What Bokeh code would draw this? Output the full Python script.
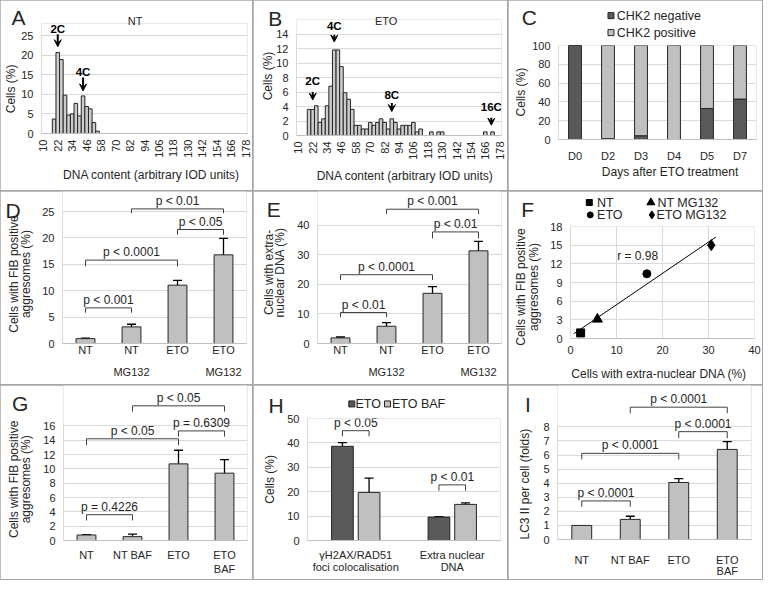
import numpy as np
from bokeh.plotting import figure
from bokeh.models import (Range1d, FixedTicker, Label, Arrow, VeeHead, Whisker,
                          TeeHead, ColumnDataSource, GridBox)
from bokeh.embed import file_html
from bokeh.resources import INLINE

# ---------------- data ----------------
hist_ticks = [10, 22, 34, 46, 58, 70, 82, 94, 106, 118, 130, 142, 154, 166, 178]

A_bins = [19, 22, 25, 28, 31, 34, 37, 40, 43, 46, 49, 52, 55]
A_cells = [3.7, 20.7, 18.9, 9.8, 4.7, 5.0, 7.7, 4.5, 9.6, 6.9, 6.3, 2.8, 0.6]
A_ticks = [0, 5, 10, 15, 20, 25]
A_marks = [("2C", 22, 26.6, 25.4, 22.2), ("4C", 43, 15.6, 14.3, 10.9)]

B_bins = [19, 22, 25, 28, 31, 34, 37, 40, 43, 46, 49, 52, 55, 58, 61, 64, 67, 70, 73,
          76, 79, 82, 85, 88, 91, 94, 97, 100, 103, 106, 109, 112, 121, 127, 130, 166, 172]
B_cells = [3.6, 3.6, 4.1, 1.8, 2.3, 4.1, 6.8, 11.8, 11.8, 9.5, 5.9, 5.0, 3.6, 1.4, 1.4,
           0.9, 0.9, 1.8, 1.4, 1.8, 2.3, 1.8, 0.9, 2.3, 1.8, 0.9, 1.4, 1.4, 1.4, 1.8, 0.5,
           0.9, 0.5, 0.5, 0.5, 0.5, 0.5]
B_ticks = [0, 2, 4, 6, 8, 10, 12, 14]
B_marks = [("2C", 22, 7.56, 6.0, 4.9), ("4C", 40, 15.1, 13.9, 12.9),
           ("8C", 88, 5.57, 4.5, 3.3), ("16C", 171, 4.0, 2.44, 1.43)]

C_days = ["D0", "D2", "D3", "D4", "D5", "D7"]
C_negative = [100, 0.8, 4, 0, 33, 43]
C_positive = [0, 99.2, 96, 100, 67, 57]
C_ticks = [0, 20, 40, 60, 80, 100]

D_groups = ["NT", "NT\n\nMG132", "ETO", "ETO\n\nMG132"]
D_fib = [0.92, 3.15, 11.05, 16.8]
D_err = [0.1, 0.5, 0.9, 3.1]
D_ticks = [0, 5, 10, 15, 20, 25]
D_pvals = [(0, 1, 6.75, 5.83, "p < 0.001"), (0, 2, 15.8, 14.6, "p < 0.0001"),
           (2, 3, 21.6, 20.6, "p < 0.05"), (1, 3, 25.5, 24.7, "p < 0.01")]

E_groups = ["NT", "NT\n\nMG132", "ETO", "ETO\n\nMG132"]
E_dna = [1.9, 5.85, 17.0, 31.4]
E_err = [0.3, 1.2, 2.3, 3.2]
E_ticks = [0, 10, 20, 30, 40]
E_pvals = [(0, 1, 10.5, 8.9, "p < 0.01"), (0, 2, 23.3, 21.5, "p < 0.0001"),
           (2, 3, 37.8, 35.6, "p < 0.01"), (1, 3, 45.5, 43.9, "p < 0.001")]

F_names = ["NT", "NT MG132", "ETO", "ETO MG132"]
F_dna = [2.2, 5.85, 16.6, 30.6]
F_fib = [0.9, 3.1, 10.4, 15.0]
F_markers = ["square", "triangle", "circle", "diamond"]
F_xticks = [0, 10, 20, 30, 40]
F_yticks = [0, 3, 6, 9, 12, 15, 18]
F_r_text = "r = 0.98"

G_groups = ["NT", "NT BAF", "ETO", "ETO\nBAF"]
G_fib = [0.77, 0.54, 10.7, 9.4]
G_err = [0.05, 0.36, 1.9, 1.9]
G_ticks = [0, 2, 4, 6, 8, 10, 12, 14, 16]
G_pvals = [(0, 1, 3.6, 2.8, "p = 0.4226"), (0, 2, 14.2, 13.3, "p < 0.05"),
           (2, 3, 15.3, 14.5, "p = 0.6309"), (1, 3, 18.8, 18.0, "p < 0.05")]

H_groups = ["\u03b3H2AX/RAD51\nfoci colocalisation", "Extra nuclear\nDNA"]
H_series = ["ETO", "ETO BAF"]
H_eto = [38.6, 9.6]
H_eto_err = [1.5, 0.15]
H_baf = [19.7, 14.8]
H_baf_err = [5.9, 0.6]
H_ticks = [0, 10, 20, 30, 40, 50]
H_pvals = [(0, 45.0, 42.7, "p < 0.05"), (1, 22.8, 20.4, "p < 0.01")]

I_groups = ["NT", "NT BAF", "ETO", "ETO\nBAF"]
I_lc3 = [1.0, 1.43, 4.05, 6.4]
I_err = [0.0, 0.22, 0.28, 0.55]
I_ticks = [0, 1, 2, 3, 4, 5, 6, 7, 8]
I_pvals = [(0, 1, 2.74, 2.33, "p < 0.0001"), (0, 2, 6.12, 5.69, "p < 0.0001"),
           (2, 3, 7.66, 7.2, "p < 0.0001"), (1, 3, 9.4, 8.97, "p < 0.0001")]

# ---------------- style ----------------
FONT = "Liberation Sans"
TXT = "#262626"
GRID = "#d9d9d9"
LIGHT = "#c0c0c0"
HIST = "#cccccc"
DARK = "#595959"
EDGE = "#262626"

WIDTHS = [252, 254, 254]
HEIGHTS = [190, 193, 194]
REFW = [256, 261, 261]
REFH = [197, 198, 200]
COLX = [0, 253, 508]
ROWY = [0, 191, 385]
TOTW, TOTH = 762, 579


class Panel:
    def __init__(self, ci, ri, frame, xr, yr):
        W, H = WIDTHS[ci], HEIGHTS[ri]
        refW, refH = REFW[ci], REFH[ri]
        fl, fr, ft, fb = frame
        kx, ky = W / refW, H / refH
        p = figure(width=W, height=H, x_range=Range1d(*xr), y_range=Range1d(*yr),
                   output_backend="svg", toolbar_location=None, frame_align=False,
                   min_border_left=round(fl * kx), min_border_right=round((refW - fr) * kx),
                   min_border_top=round(ft * ky), min_border_bottom=round((refH - fb) * ky))
        p.outline_line_color = None
        p.border_fill_color = "white"
        p.background_fill_color = "white"
        p.xgrid.grid_line_color = None
        p.ygrid.grid_line_color = GRID
        for ax in (p.xaxis[0], p.yaxis[0]):
            ax.major_tick_line_color = None
            ax.minor_tick_line_color = None
            ax.major_tick_out = 0
            ax.major_label_text_font = FONT
            ax.major_label_text_font_size = "11px"
            ax.major_label_text_color = TXT
        p.xaxis.axis_line_color = "#bfbfbf"
        p.yaxis.axis_line_color = GRID
        p.yaxis.major_label_standoff = 8
        self.p = p

    def yticks(self, ticks):
        t = FixedTicker(ticks=ticks)
        self.p.yaxis.ticker = t
        self.p.ygrid.ticker = t
        self.p.yaxis.bounds = (ticks[0], ticks[-1])

    def xticks(self, ticks, labels=None, standoff=4, line_height=1.2):
        t = FixedTicker(ticks=ticks)
        self.p.xaxis.ticker = t
        self.p.xgrid.ticker = t
        if labels is not None:
            self.p.xaxis.major_label_overrides = {tk: lb for tk, lb in zip(ticks, labels)}
        self.p.xaxis.major_label_standoff = standoff
        self.p.xaxis.major_label_text_line_height = line_height


def errbars(pn, xs, vals, errs):
    keep = [i for i, e in enumerate(errs) if e > 0]
    src = ColumnDataSource(dict(x=[xs[i] for i in keep],
                                lo=[vals[i] - errs[i] for i in keep],
                                hi=[vals[i] + errs[i] for i in keep]))
    pn.p.add_layout(Whisker(source=src, base="x", lower="lo", upper="hi",
                            line_color="black", line_width=1.3,
                            upper_head=TeeHead(size=9, line_color="black", line_width=1.3),
                            lower_head=TeeHead(size=9, line_color="black", line_width=1.3)))


def bracket(pn, x1, x2, yt, yb, label):
    pn.p.line(x=[x1, x1, x2, x2], y=[yb, yt, yt, yb], line_color="#404040", line_width=1)
    pn.p.add_layout(Label(x=(x1 + x2) / 2, y=yt, text=label, text_align="center",
                          text_baseline="bottom", y_offset=1, text_font=FONT,
                          text_font_size="12px", text_color=TXT))


def mark(pn, label, x, ty, y0, y1):
    pn.p.add_layout(Arrow(x_start=x, y_start=y0, x_end=x, y_end=y1, line_width=2,
                          line_color="black",
                          end=VeeHead(size=7, fill_color="black", line_color="black",
                                      line_width=1)))
    pn.p.add_layout(Label(x=x, y=ty, text=label, text_align="center",
                          text_baseline="middle", text_font=FONT, text_font_size="11.5px",
                          text_font_style="bold", text_color="black"))


HALF_PI = np.pi / 2

# ---------------- overlay for free texts (titles, letters, legends) ----------------
ov = figure(width=TOTW, height=TOTH, x_range=Range1d(0, TOTW), y_range=Range1d(TOTH, 0),
            output_backend="svg", toolbar_location=None, min_border=0, frame_align=False,
            x_axis_type=None, y_axis_type=None)
ov.outline_line_color = None
ov.border_fill_color = None
ov.background_fill_color = None


def pos(ci, ri, x, y):
    return (COLX[ci] + x * WIDTHS[ci] / REFW[ci], ROWY[ri] + y * HEIGHTS[ri] / REFH[ri])


def otext(ci, ri, x, y, s, size, angle=0.0, align="center", color=TXT):
    X, Y = pos(ci, ri, x, y)
    ov.add_layout(Label(x=X, y=Y, text=s, angle=angle, text_font=FONT,
                        text_font_size=f"{size}px", text_align=align,
                        text_baseline="middle", text_color=color))


def omark(ci, ri, x, y, marker, size, fill, line):
    X, Y = pos(ci, ri, x, y)
    ov.scatter(x=[X], y=[Y], marker=marker, size=size, fill_color=fill, line_color=line,
               line_width=1)


# ---------------- A ----------------
pa = Panel(0, 0, (42, 251, 24, 138.3), (8.5, 179.5), (0, 28.12))
pa.p.vbar(x=A_bins, top=A_cells, width=3, fill_color=HIST, line_color=EDGE, line_width=1)
pa.yticks(A_ticks)
pa.xticks(hist_ticks, standoff=6)
pa.p.xaxis.major_label_orientation = HALF_PI
for m in A_marks:
    mark(pa, *m)
otext(0, 0, 18.3, 17.3, "A", 21)
otext(0, 0, 136.7, 21.3, "NT", 11)
otext(0, 0, 11, 91.7, "Cells (%)", 12, angle=HALF_PI)
otext(0, 0, 153.3, 181, "DNA content (arbitrary IOD units)", 12)

# ---------------- B ----------------
pb = Panel(1, 0, (44, 254.8, 20, 140), (8.5, 179.5), (0, 16.0))
pb.p.vbar(x=B_bins, top=B_cells, width=3, fill_color=HIST, line_color=EDGE, line_width=1)
pb.yticks(B_ticks)
pb.xticks(hist_ticks, standoff=6)
pb.p.xaxis.major_label_orientation = HALF_PI
for m in B_marks:
    mark(pb, *m)
otext(1, 0, 22.3, 18.3, "B", 21)
otext(1, 0, 136.3, 21.3, "ETO", 11)
otext(1, 0, 15, 78.3, "Cells (%)", 12, angle=HALF_PI)
otext(1, 0, 155.7, 181.7, "DNA content (arbitrary IOD units)", 12)

# ---------------- C ----------------
pc = Panel(2, 0, (51, 255, 46.7, 144), (-0.5, 5.5), (0, 100))
cx = list(range(len(C_days)))
pc.p.vbar(x=cx, bottom=0, top=C_negative, width=0.39, fill_color=DARK, line_color=EDGE,
          line_width=1)
pc.p.vbar(x=cx, bottom=C_negative, top=[n + q for n, q in zip(C_negative, C_positive)],
          width=0.39, fill_color=LIGHT, line_color=EDGE, line_width=1)
pc.yticks(C_ticks)
pc.xticks(cx, C_days, standoff=10)
otext(2, 0, 21.3, 17.3, "C", 21)
omark(2, 0, 105.3, 15.7, "square", 6, DARK, EDGE)
omark(2, 0, 105.3, 33.3, "square", 6, LIGHT, EDGE)
otext(2, 0, 111.3, 15.7, "CHK2 negative", 12.5, align="left")
otext(2, 0, 111.3, 33.3, "CHK2 positive", 12.5, align="left")
otext(2, 0, 13, 95, "Cells (%)", 12, angle=HALF_PI)
otext(2, 0, 166, 178, "Days after ETO treatment", 12)


# ---------------- bar panels ----------------
def bar_panel(ci, ri, frame, yend, groups, vals, errs, ticks, pvals, standoff, lh):
    pn = Panel(ci, ri, frame, (-0.5, len(groups) - 0.5), (0, yend))
    xs = list(range(len(groups)))
    pn.p.vbar(x=xs, top=vals, width=0.41, fill_color=LIGHT, line_color=EDGE, line_width=1)
    errbars(pn, xs, vals, errs)
    pn.yticks(ticks)
    pn.xticks(xs, groups, standoff=standoff, line_height=lh)
    for i, j, yt, yb, lab in pvals:
        bracket(pn, xs[i], xs[j], yt, yb, lab)
    return pn


pd_ = bar_panel(0, 1, (63, 250, 0, 156.3), 28.8, D_groups, D_fib, D_err, D_ticks,
                D_pvals, 0, 0.93)
otext(0, 1, 12.8, 20, "D", 21)
otext(0, 1, 13.3, 84.7, "Cells with FIB positive", 12, angle=HALF_PI)
otext(0, 1, 26, 84.7, "aggresomes (%)", 12, angle=HALF_PI)

pe = bar_panel(1, 1, (66, 255, 0, 155.7), 51.5, E_groups, E_dna, E_err, E_ticks,
               E_pvals, 0, 0.93)
otext(1, 1, 20.7, 18.7, "E", 21)
otext(1, 1, 15.7, 83, "Cells with extra-", 12, angle=HALF_PI)
otext(1, 1, 27.3, 83, "nuclear DNA (%)", 12, angle=HALF_PI)

# ---------------- F ----------------
pf = Panel(2, 1, (63.7, 253, 36.3, 151.3), (0, 40), (0, 18))
pf.p.xgrid.grid_line_color = GRID
pf.yticks(F_yticks)
pf.xticks(F_xticks, standoff=7)
slope, icpt = np.polyfit(F_dna, F_fib, 1)
tx = np.array([min(F_dna) - 1.5, max(F_dna) + 1.0])
pf.p.line(x=tx, y=slope * tx + icpt, line_color="black", line_width=1)
msize = {"square": 8, "triangle": 10, "circle": 8, "diamond": 11}
for xv, yv, mk in zip(F_dna, F_fib, F_markers):
    pf.p.scatter(x=[xv], y=[yv], marker=mk, size=msize[mk], fill_color="black",
                 line_color="black")
pf.p.add_layout(Label(x=14.6, y=13.3, text=F_r_text, text_align="center",
                      text_baseline="middle", text_font=FONT, text_font_size="12px",
                      text_color=TXT))
otext(2, 1, 19.7, 18.7, "F", 21)
leg_pos = [(83, 11.3, 91), (146.3, 11.3, 153), (84, 24, 91), (147.3, 24, 152)]
leg_size = {"square": 6, "triangle": 8, "circle": 6, "diamond": 8}
for (mx, my, tx_), mk, nm in zip(leg_pos, F_markers, F_names):
    omark(2, 1, mx, my, mk, leg_size[mk], "black", "black")
    otext(2, 1, tx_, my, nm, 12.5, align="left")
otext(2, 1, 13, 98, "Cells with FIB positive", 12, angle=HALF_PI)
otext(2, 1, 25.7, 98, "aggresomes (%)", 12, angle=HALF_PI)
otext(2, 1, 154.7, 187.3, "Cells with extra-nuclear DNA (%)", 12)

# ---------------- G ----------------
pg = bar_panel(0, 2, (64, 251, 0, 160), 21.64, G_groups, G_fib, G_err, G_ticks,
               G_pvals, 8, 1.2)
otext(0, 2, 20, 18.3, "G", 21)
otext(0, 2, 13.3, 96.7, "Cells with FIB positive", 12, angle=HALF_PI)
otext(0, 2, 26, 96.7, "aggresomes (%)", 12, angle=HALF_PI)

# ---------------- H ----------------
ph = Panel(1, 2, (55, 254, 34.3, 159.3), (-0.5, 1.5), (0, 50))
hx = np.arange(len(H_groups))
off, bw = 0.138, 0.225
ph.p.vbar(x=hx - off, top=H_eto, width=bw, fill_color=DARK, line_color=EDGE, line_width=1)
ph.p.vbar(x=hx + off, top=H_baf, width=bw, fill_color=LIGHT, line_color=EDGE, line_width=1)
errbars(ph, list(hx - off), H_eto, H_eto_err)
errbars(ph, list(hx + off), H_baf, H_baf_err)
ph.yticks(H_ticks)
ph.xticks(list(hx), H_groups, standoff=8, line_height=1.05)
for g, yt, yb, lab in H_pvals:
    bracket(ph, hx[g] - off, hx[g] + off, yt, yb, lab)
otext(1, 2, 23.3, 20.7, "H", 21)
omark(1, 2, 101, 19, "square", 6, DARK, EDGE)
otext(1, 2, 104.7, 19, H_series[0], 12.5, align="left")
omark(1, 2, 137.7, 19, "square", 6, LIGHT, EDGE)
otext(1, 2, 142.3, 19, H_series[1], 12.5, align="left")
otext(1, 2, 16.7, 96.7, "Cells (%)", 12, angle=HALF_PI)

# ---------------- I ----------------
pi_ = bar_panel(2, 2, (50.4, 249.6, 0, 161), 10.94, I_groups, I_lc3, I_err, I_ticks,
                I_pvals, 14, 0.95)
otext(2, 2, 20, 20, "I", 21)
otext(2, 2, 16.7, 101.7, "LC3 II per cell (folds)", 12, angle=HALF_PI)

layout = GridBox(
    children=[(pa.p, 0, 0), (pb.p, 0, 1), (pc.p, 0, 2),
              (pd_.p, 1, 0), (pe.p, 1, 1), (pf.p, 1, 2),
              (pg.p, 2, 0), (ph.p, 2, 1), (pi_.p, 2, 2),
              (ov, 0, 0, 3, 3)],
    spacing=1,
    styles={"background-color": "#a6a6a6", "outline": "1px solid #a6a6a6"},
)

open("out.html", "w").write(file_html(layout, INLINE, title="Figure"))
